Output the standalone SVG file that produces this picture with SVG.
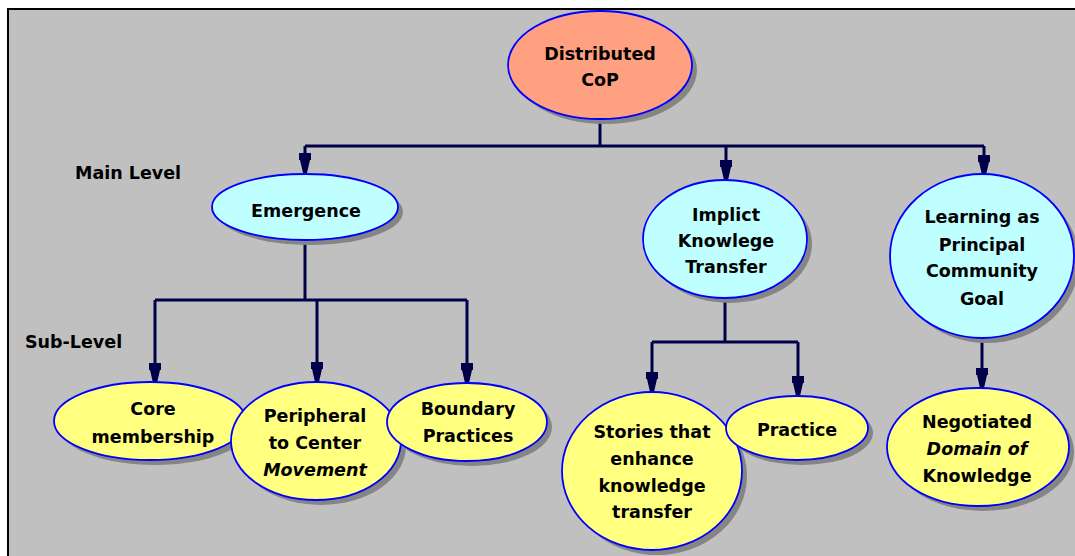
<svg xmlns="http://www.w3.org/2000/svg" width="1075" height="556" viewBox="0 0 1075 556">
<style>
.bg{fill:#c0c0c0}
.frame{stroke:#000;stroke-width:2;fill:none}
.sh{fill:#858585}
.n{stroke:#0000ff;stroke-width:1.8}
.top{fill:#ffa080}
.main{fill:#c0ffff}
.sub{fill:#ffff80}
.t{font-family:"DejaVu Sans",Verdana,sans-serif;font-weight:bold;font-size:17.5px;fill:#000;text-anchor:middle}
.lbl{font-family:"DejaVu Sans",Verdana,sans-serif;font-weight:bold;font-size:17.5px;fill:#000}
.it{font-style:italic}
.c{stroke:#00004a;stroke-width:3;fill:none}
.a{marker-end:url(#arr)}
</style>
<defs>
<marker id="arr" markerUnits="userSpaceOnUse" orient="auto" refX="20" refY="6.5" markerWidth="21" markerHeight="13">
<path d="M0,0.5 L7,0.5 L7,1.5 L20,4.5 L20,8.5 L7,11.5 L7,12.5 L0,12.5 Z" fill="#00004a"/>
</marker>
</defs>
<rect class="bg" x="8" y="9" width="1067" height="547"/>
<path class="frame" d="M8,556 L8,9 L1075,9"/>

<text class="lbl" x="75" y="179">Main Level</text>
<text class="lbl" x="25" y="348">Sub-Level</text>

<g id="connectors">
<path class="c" d="M600,120 L600,146 M305,146 L984,146"/>
<path class="c a" d="M305,146 L305,173"/>
<path class="c a" d="M726,146 L726,180"/>
<path class="c a" d="M984,146 L984,175"/>
<path class="c" d="M305,240 L305,300 M155,300 L467,300"/>
<path class="c a" d="M155,300 L155,383"/>
<path class="c a" d="M317,300 L317,382"/>
<path class="c a" d="M467,300 L467,383"/>
<path class="c" d="M725,298 L725,342 M652,342 L798,342"/>
<path class="c a" d="M652,342 L652,392"/>
<path class="c a" d="M798,342 L798,396"/>
<path class="c a" d="M982,338 L982,388"/>
</g>

<g id="distributed-cop">
<ellipse class="sh" cx="605" cy="70" rx="92" ry="54"/>
<ellipse class="n top" cx="600" cy="65" rx="92" ry="54"/>
<text class="t" x="600" y="60">Distributed</text>
<text class="t" x="600" y="86">CoP</text>
</g>

<g id="emergence">
<ellipse class="sh" cx="310" cy="212" rx="93" ry="33"/>
<ellipse class="n main" cx="305" cy="207" rx="93" ry="33"/>
<text class="t" x="306" y="217">Emergence</text>
</g>

<g id="implicit">
<ellipse class="sh" cx="730" cy="244" rx="82" ry="59"/>
<ellipse class="n main" cx="725" cy="239" rx="82" ry="59"/>
<text class="t" x="726" y="221">Implict</text>
<text class="t" x="726" y="247">Knowlege</text>
<text class="t" x="726" y="273">Transfer</text>
</g>

<g id="learning">
<ellipse class="sh" cx="987" cy="261" rx="92" ry="82"/>
<ellipse class="n main" cx="982" cy="256" rx="92" ry="82"/>
<text class="t" x="982" y="223">Learning as</text>
<text class="t" x="982" y="251">Principal</text>
<text class="t" x="982" y="277">Community</text>
<text class="t" x="982" y="305">Goal</text>
</g>

<g id="core">
<ellipse class="sh" cx="155" cy="426" rx="96" ry="39"/>
<ellipse class="n sub" cx="150" cy="421" rx="96" ry="39"/>
<text class="t" x="153" y="415">Core</text>
<text class="t" x="153" y="443">membership</text>
</g>

<g id="peripheral">
<ellipse class="sh" cx="321" cy="446" rx="85" ry="59"/>
<ellipse class="n sub" cx="316" cy="441" rx="85" ry="59"/>
<text class="t" x="315" y="422">Peripheral</text>
<text class="t" x="315" y="449">to Center</text>
<text class="t it" x="315" y="476">Movement</text>
</g>

<g id="boundary">
<ellipse class="sh" cx="472" cy="427" rx="80" ry="39"/>
<ellipse class="n sub" cx="467" cy="422" rx="80" ry="39"/>
<text class="t" x="468" y="415">Boundary</text>
<text class="t" x="468" y="442">Practices</text>
</g>

<g id="stories">
<ellipse class="sh" cx="657" cy="476" rx="90" ry="79"/>
<ellipse class="n sub" cx="652" cy="471" rx="90" ry="79"/>
<text class="t" x="652" y="438">Stories that</text>
<text class="t" x="652" y="465">enhance</text>
<text class="t" x="652" y="492">knowledge</text>
<text class="t" x="652" y="518">transfer</text>
</g>

<g id="practice">
<ellipse class="sh" cx="802" cy="433" rx="71" ry="32"/>
<ellipse class="n sub" cx="797" cy="428" rx="71" ry="32"/>
<text class="t" x="797" y="436">Practice</text>
</g>

<g id="negotiated">
<ellipse class="sh" cx="983" cy="452" rx="91" ry="59"/>
<ellipse class="n sub" cx="978" cy="447" rx="91" ry="59"/>
<text class="t" x="977" y="428">Negotiated</text>
<text class="t it" x="977" y="455">Domain of</text>
<text class="t" x="977" y="482">Knowledge</text>
</g>
</svg>
